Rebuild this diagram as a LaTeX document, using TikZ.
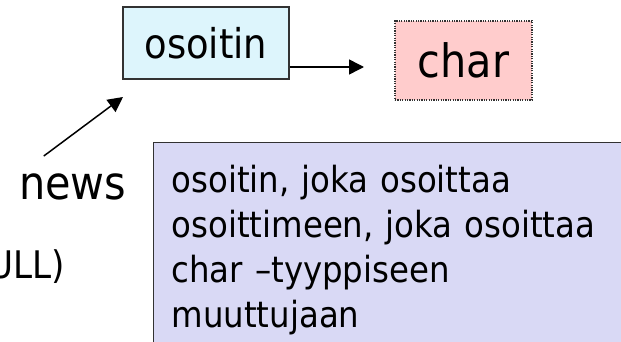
\documentclass[tikz,border=0pt]{standalone}
\usepackage{fontspec}
\setmainfont{DejaVu Sans Condensed}
\usetikzlibrary{arrows.meta}
\definecolor{ptrcyan}{RGB}{221,245,252}
\definecolor{charpink}{RGB}{255,204,204}
\definecolor{desclila}{RGB}{217,217,245}
\definecolor{edge}{RGB}{50,50,50}

\begin{document}
\begin{tikzpicture}[
            x=1pt, y=-1pt,
            every node/.style={inner sep=0pt, text=black},
            ptrbox/.style={draw=edge, line width=1.3pt, fill=ptrcyan, minimum width=166pt, minimum height=72pt, font=\fontsize{41}{49}\selectfont},
            charbox/.style={draw=edge, line width=1.2pt, dash pattern=on 1.2pt off 1.2pt, fill=charpink, minimum width=137pt, minimum height=79pt, font=\fontsize{46}{55}\selectfont},
            descbox/.style={draw=edge, line width=1.3pt, fill=desclila, text width=440pt, align=left, inner xsep=18pt, inner ysep=19pt, minimum height=215pt, font=\fontsize{36}{45}\selectfont},
            ptr/.style={-{Triangle[length=15pt, width=15pt]}, line width=1.5pt},
            ]
            \useasboundingbox (0,0) rectangle (621,342);
            \clip (0,0) rectangle (621,342);
            \node[ptrbox] (osoitin) at (206,43) {osoitin};
            \node[charbox] (char) at (463.5,60.5) {char};
            \node[descbox, anchor=north west] (kuvaus) at (153,142)
                {osoitin, joka osoittaa\\ osoittimeen, joka osoittaa\\ char –tyyppiseen\\ muuttujaan};
            \node[anchor=base west, font=\fontsize{46}{55}\selectfont] (news) at (19,199) {news};
            \node[anchor=base east, font=\fontsize{38}{46}\selectfont] (null) at (65,278) {ULL)};
            % nuolet
            \coordinate (charin) at (364,67);
            \coordinate (newsin) at (123,97);
            \draw[ptr] (osoitin.east |- charin) -- (charin);
            \draw[ptr] ([xshift=-29pt, yshift=17pt]news.north) -- (newsin);
\end{tikzpicture}
\end{document}
